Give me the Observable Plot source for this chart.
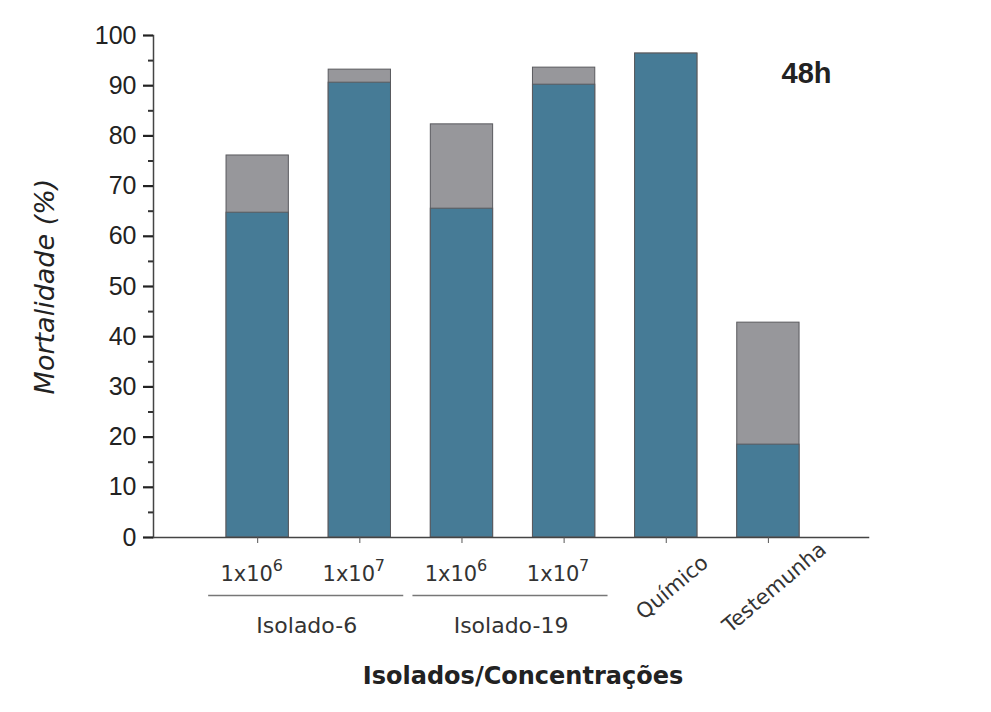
<!DOCTYPE html>
<html>
<head>
<meta charset="utf-8">
<script src="https://cdn.jsdelivr.net/npm/d3@7"></script>
<script src="https://cdn.jsdelivr.net/npm/@observablehq/plot@0.6"></script>
<style>
  body { margin: 0; background: #fff; }
  svg { display: block; }
</style>
</head>
<body>
<div id="chart"></div>
<script>
// ---- data ----
const categories = ["1x10^6", "1x10^7", "1x10^6", "1x10^7", "Químico", "Testemunha"];
const concBase = ["1x10", "1x10", "1x10", "1x10"];
const concExp = ["6", "7", "6", "7"];
const groupNames = ["Isolado-6", "Isolado-19"];
const groupFirst = [0, 2];
const groupLast = [1, 3];
const blueValues = [64.7, 90.6, 65.5, 90.2, 96.4, 18.5];
const totalValues = [76.1, 93.2, 82.3, 93.6, 96.4, 42.8];
const yTicks = [0, 10, 20, 30, 40, 50, 60, 70, 80, 90, 100];
const yMinorTicks = [5, 15, 25, 35, 45, 55, 65, 75, 85, 95];
const rotatedIdx = [4, 5];

const idx = d3.range(categories.length);
const concIdx = d3.range(concBase.length);
const groupIdx = d3.range(groupNames.length);

const blue = "#467b96";
const gray = "#97979b";
const edge = "#5a5a5e";
const half = 0.305;
const labelFont = "DejaVu Sans, sans-serif";

const chart = Plot.plot({
  width: 991,
  height: 712,
  marginLeft: 153,
  marginRight: 123,
  marginTop: 35,
  marginBottom: 175,
  style: {background: "#fff", overflow: "visible"},
  x: {type: "linear", domain: [-1.02, 5.98]},
  y: {domain: [0, 100]},
  marks: [
    // bars: total (gray) then mortality (blue)
    Plot.rectY(idx, {x1: i => i - half, x2: i => i + half, y1: 0, y2: i => totalValues[i], fill: gray, stroke: edge, strokeWidth: 1}),
    Plot.rectY(idx, {x1: i => i - half, x2: i => i + half, y1: 0, y2: i => blueValues[i], fill: blue, stroke: edge, strokeWidth: 1}),
    // axes lines
    Plot.frame({anchor: "left", stroke: "#444", strokeWidth: 1.5}),
    Plot.frame({anchor: "bottom", stroke: "#444", strokeWidth: 1.5}),
    Plot.axisY({ticks: yTicks, tickSize: 10, tickPadding: 7, fontSize: 25, fontFamily: "Liberation Sans, Arial, sans-serif", color: "#222", strokeWidth: 2.2, label: null}),
    Plot.axisY({ticks: yMinorTicks, tickSize: 5, text: null, strokeWidth: 2, stroke: "#333", label: null}),
    Plot.axisX({ticks: idx, tickSize: 6, text: null, stroke: "#555", label: null}),
    // concentration labels
    Plot.text(concIdx, {x: i => i, y: 0, text: i => concBase[i], dx: -11, dy: 37, fontSize: 21, fontFamily: labelFont, fill: "#333", textAnchor: "middle"}),
    Plot.text(concIdx, {x: i => i, y: 0, text: i => concExp[i], dx: 15, dy: 28, fontSize: 16, fontFamily: labelFont, fill: "#333", textAnchor: "start"}),
    // group underline and labels
    Plot.ruleY(groupIdx, {y: 0, x1: i => groupFirst[i] - 0.48, x2: i => groupLast[i] + 0.43, dy: 58, stroke: "#777", strokeWidth: 1.5}),
    Plot.text(groupIdx, {x: i => (groupFirst[i] + groupLast[i]) / 2, y: 0, text: i => groupNames[i], dx: -2, dy: 88, fontSize: 22, fontFamily: labelFont, fill: "#333"}),
    // rotated labels
    Plot.text(rotatedIdx, {x: i => i, y: 0, text: i => categories[i], dx: 6, dy: 50, rotate: -40, fontSize: 21, fontFamily: labelFont, fill: "#333"}),
    // 48h
    Plot.text(["48h"], {frameAnchor: "top-right", dx: -37, dy: 27, fontSize: 29, fontWeight: "bold", fontFamily: "Liberation Sans, Arial, sans-serif", fill: "#222", textAnchor: "end"}),
    // axis titles
    Plot.text(["Mortalidade (%)"], {frameAnchor: "left", dx: -108, rotate: -90, textAnchor: "middle", fontSize: 27, fontFamily: labelFont, fill: "#222", fontStyle: "italic"}),
    Plot.text(["Isolados/Concentrações"], {frameAnchor: "bottom", dx: 12, dy: 146, fontSize: 24, fontWeight: "bold", fontFamily: labelFont, fill: "#222"})
  ]
});

document.getElementById("chart").appendChild(chart);
</script>
</body>
</html>
